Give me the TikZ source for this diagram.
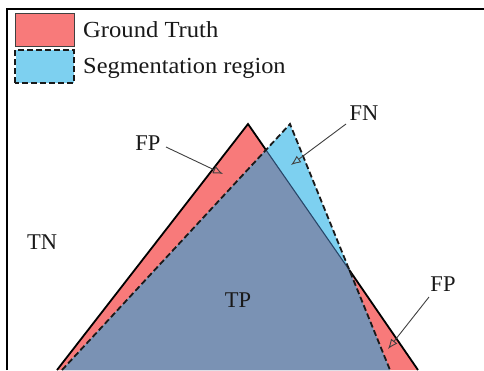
\documentclass[tikz,border=0pt]{standalone}
\usepackage{fontspec}
\setmainfont{Liberation Serif}
\usetikzlibrary{arrows.meta}
\definecolor{gtred}{RGB}{248,122,122}
\definecolor{segblue}{RGB}{125,208,240}
\definecolor{overlap}{RGB}{122,146,180}
\definecolor{edgeblue}{RGB}{40,70,105}
\tikzset{
  lbl/.style={font=\fontsize{22.5}{24}\selectfont, inner sep=0pt, text=black!90},
  legtxt/.style={font=\fontsize{23}{25}\selectfont, inner sep=0pt, anchor=west, text=black!90},
  ptr/.style={draw=black!75, line width=0.9pt, -{Latex[open,length=10pt,width=8pt]}},
  gtedge/.style={draw=black, line width=1.8pt},
  segedge/.style={draw=black!90, line width=1.8pt, dash pattern=on 6pt off 3pt}
}
\begin{document}
\begin{tikzpicture}[x=1pt,y=-1pt]
\useasboundingbox (0,0) rectangle (484,370);
\fill[white] (0,0) rectangle (484,370);
% vertices
\coordinate (ga) at (248,124);
\coordinate (gl) at (57,370);
\coordinate (gr) at (418,370);
\coordinate (sa) at (290,124);
\coordinate (sl) at (62,370);
\coordinate (sr) at (390,370);
\coordinate (x1) at (265.6,149.4);
\coordinate (x2) at (349.3,270);
\begin{scope}
\clip (0,0) rectangle (484,370);
\fill[gtred] (ga) -- (gl) -- (gr) -- cycle;
\fill[segblue] (sa) -- (sl) -- (sr) -- cycle;
\begin{scope}
\clip (ga) -- (gl) -- (gr) -- cycle;
\fill[overlap] (sa) -- (sl) -- (sr) -- cycle;
\end{scope}
\draw[gtedge] (gl) -- (ga) -- (x1);
\draw[draw=edgeblue, line width=1.1pt] (x1) -- (x2);
\draw[gtedge] (x2) -- (gr);
\draw[segedge] (sl) -- (sa) -- (sr);
\end{scope}
% frame
\draw[black, line width=1.3pt] (7,370) -- (7,9) -- (484,9);
% legend
\node[draw=black!75, fill=gtred, line width=1pt, minimum width=59pt, minimum height=33pt, inner sep=0pt] (lg) at (45,29.5) {};
\node[fill=segblue, minimum width=58pt, minimum height=33pt, inner sep=0pt] (ls) at (44.5,66.5) {};
\draw[segedge] (ls.south west) rectangle (ls.north east);
\node[legtxt] (tg) at (83,30) {\scalebox{1.07}[1]{Ground Truth}};
\node[legtxt] (ts) at (83,68) {\scalebox{1.06}[1]{Segmentation region}};
% labels
\node[lbl] (fp1) at (148,143) {FP};
\node[lbl] (fn) at (364,113) {FN};
\node[lbl] (fp2) at (443,284) {FP};
\node[lbl] (tn) at (42,242) {TN};
\node[lbl] (tp) at (238,300) {TP};
\coordinate (t1) at (223,174);
\coordinate (t2) at (291,165);
\coordinate (t3) at (388,349);
\draw[ptr] (166,147) -- (t1);
\draw[ptr] (346,124) -- (t2);
\draw[ptr] (429,297) -- (t3);
\end{tikzpicture}
\end{document}
